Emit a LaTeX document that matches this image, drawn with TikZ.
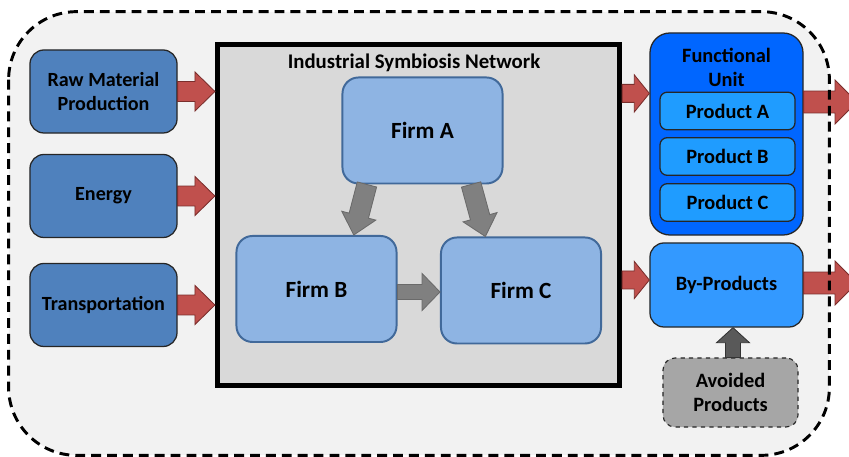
\documentclass[tikz,border=0pt]{standalone}
\usepackage{fontspec}
\setmainfont{Carlito}
\usetikzlibrary{calc}
\definecolor{backcolor}{HTML}{F2F2F2}
\definecolor{inputcolor}{HTML}{4F81BD}
\definecolor{netcolor}{HTML}{D9D9D9}
\definecolor{firmcolor}{HTML}{8EB4E3}
\definecolor{firmline}{HTML}{41699A}
\definecolor{unitcolor}{HTML}{0066FF}
\definecolor{productcolor}{HTML}{1F9CFF}
\definecolor{bycolor}{HTML}{3399FF}
\definecolor{avoidcolor}{HTML}{A6A6A6}
\definecolor{flowcolor}{HTML}{C0504D}
\definecolor{flowline}{HTML}{7A2E2C}
\definecolor{innercolor}{HTML}{808080}
\definecolor{innerline}{HTML}{6A6A6A}
\definecolor{upcolor}{HTML}{595959}

\tikzset{
  inputbox/.style={draw=black!85, line width=0.9pt, rounded corners=0.35cm, fill=inputcolor,
    minimum width=3.675cm, minimum height=2.075cm, align=center,
    font=\fontsize{14.3pt}{17pt}\selectfont\bfseries},
  firmbox/.style={draw=firmline, line width=1.4pt, rounded corners=0.4cm, fill=firmcolor,
    minimum width=4cm, minimum height=2.65cm, font=\fontsize{16.5pt}{19pt}\selectfont\bfseries},
  productbox/.style={draw=black!85, line width=0.9pt, rounded corners=0.18cm, fill=productcolor,
    minimum width=3.375cm, minimum height=0.94cm, font=\fontsize{14.5pt}{17pt}\selectfont\bfseries},
  redflow/.style={fill=flowcolor, draw=flowline, line width=0.6pt},
  grayflow/.style={fill=innercolor, draw=innerline, line width=0.6pt},
  darkflow/.style={fill=upcolor, draw=black!80, line width=0.6pt},
}

% block arrow: [style]{from}{to}{body half}{head half}{head length}
\newcommand\fatarrow[6][]{%
  \draw[#1] let \p1=#2, \p2=#3, \n1={atan2(\y2-\y1,\x2-\x1)}, \n2={veclen(\x2-\x1,\y2-\y1)} in
    ([shift={(\p1)},rotate=\n1]0pt,#4) -- ([shift={(\p1)},rotate=\n1]\n2-#6,#4)
    -- ([shift={(\p1)},rotate=\n1]\n2-#6,#5) -- (\p2)
    -- ([shift={(\p1)},rotate=\n1]\n2-#6,-#5) -- ([shift={(\p1)},rotate=\n1]\n2-#6,-#4)
    -- ([shift={(\p1)},rotate=\n1]0pt,-#4) -- cycle;}

\begin{document}
\begin{tikzpicture}[x=0.025cm, y=-0.025cm]%
\clip (0,0) rectangle (849,457);%
% system boundary
\node[fill=backcolor, rounded corners=1.7cm, minimum width=20.5cm, minimum height=11.075cm] (system) at (419,233.5) {};%
% inputs
\node[inputbox] (raw) at (103.5,91.5) {Raw Material\\Production};%
\node[inputbox] (energy) at (103.5,196) {Energy};%
\node[inputbox] (transport) at (103.5,305) {Transportation};%
% network
\node[draw, line width=3.6pt, fill=netcolor, minimum width=10.05cm, minimum height=8.5cm] (net) at (418.5,215) {};%
\node[font=\fontsize{14.8pt}{17pt}\selectfont\bfseries] (nettitle) at (414,63) {Industrial Symbiosis Network};%
\node[firmbox] (firmA) at (422.5,130.5) {Firm A};%
\node[firmbox] (firmB) at (316.5,289) {Firm B};%
\node[firmbox] (firmC) at (521,290.5) {Firm C};%
% outputs
\node[draw=black!85, line width=0.9pt, rounded corners=0.5cm, fill=unitcolor, minimum width=3.825cm, minimum height=5.05cm] (unit) at (726.5,134) {};%
\node[font=\fontsize{14.5pt}{17pt}\selectfont\bfseries, align=center] (unittitle) at (726.5,67) {Functional\\Unit};%
\node[productbox] (prodA) at (727.5,111) {Product A};%
\node[productbox] (prodB) at (727.5,156.5) {Product B};%
\node[productbox] (prodC) at (727.5,202.5) {Product C};%
\node[draw=black!85, line width=0.9pt, rounded corners=0.35cm, fill=bycolor, minimum width=3.825cm, minimum height=2.1cm, font=\fontsize{14.5pt}{17pt}\selectfont\bfseries] (byprod) at (726.5,285) {By-Products};%
\node[draw=black!85, dashed, line width=0.8pt, rounded corners=0.3cm, fill=avoidcolor, minimum width=3.375cm, minimum height=1.725cm, align=center, font=\fontsize{14.5pt}{17pt}\selectfont\bfseries] (avoided) at (730.5,392.5) {Avoided\\Products};%
\coordinate (exitA) at (857,102);%
\coordinate (exitB) at (857,283);%
% flows
\fatarrow[redflow]{(raw.east)}{(net.west |- raw.east)}{7.1pt}{13.9pt}{14.2pt}%
\fatarrow[redflow]{(energy.east)}{(net.west |- energy.east)}{7.1pt}{13.9pt}{14.2pt}%
\fatarrow[redflow]{(transport.east)}{(net.west |- transport.east)}{7.1pt}{13.9pt}{14.2pt}%
\fatarrow[grayflow]{($(firmA.south west)!0.157!(firmA.south east)$)}{($(firmB.north west)!0.73!(firmB.north east)$)}{7.1pt}{12.5pt}{14.2pt}%
\fatarrow[grayflow]{($(firmA.south west)!0.80!(firmA.south east)$)}{($(firmC.north west)!0.28!(firmC.north east)$)}{7.1pt}{12.5pt}{14.2pt}%
\fatarrow[grayflow]{($(firmB.east)+(0,3)$)}{($(firmC.west |- firmB.east)+(0,3)$)}{5.3pt}{13.2pt}{12.8pt}%
\fatarrow[redflow]{($(net.north east)+(0,51)$)}{($(unit.west |- net.north east)+(0,51)$)}{6.4pt}{13.2pt}{10.7pt}%
\fatarrow[redflow]{($(net.east |- byprod.west)+(0,-5)$)}{($(byprod.west)+(0,-5)$)}{6.4pt}{13.2pt}{10.7pt}%
\fatarrow[redflow]{(unit.east |- exitA)}{(exitA)}{7.8pt}{15.6pt}{15.6pt}%
\fatarrow[redflow]{(byprod.east |- exitB)}{(exitB)}{7.8pt}{15.6pt}{15.6pt}%
\fatarrow[darkflow]{($(avoided.north)+(2.5,0)$)}{($(byprod.south -| avoided.north)+(2.5,0)$)}{5.3pt}{11.7pt}{10.7pt}%
% boundary line on top
\draw[line width=2.1pt, dash pattern=on 7pt off 4.3pt, rounded corners=1.7cm] (system.north west) rectangle (system.south east);%
\end{tikzpicture}
\end{document}
